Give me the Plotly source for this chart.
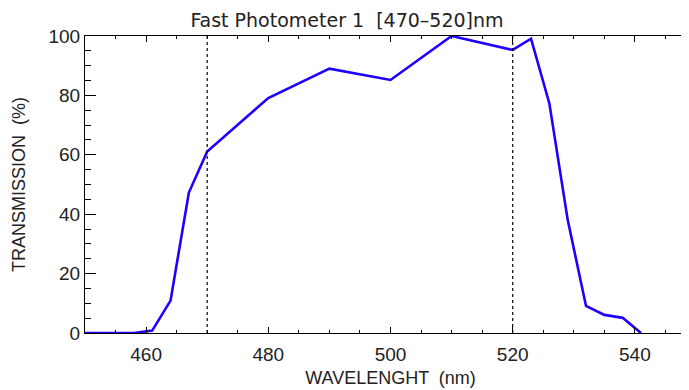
import plotly.graph_objects as go

wavelength = [450, 458, 461, 464, 467, 470, 480, 490, 500, 510, 520, 523, 526, 529, 532, 535, 538, 541]
transmission = [0, 0, 0.8, 10.9, 47.3, 61.1, 79.1, 89.0, 85.2, 100, 95.3, 99.1, 77.3, 38.1, 9.1, 6.1, 5.1, 0]
band_edges = [470, 520]
x_ticks = [460, 480, 500, 520, 540]
y_ticks = [0, 20, 40, 60, 80, 100]

title_text = "Fast Photometer 1  [470\u2013520]nm"
x_title = "WAVELENGHT  (nm)"
y_title = "TRANSMISSION  (%)"

FONT = "Liberation Sans"
TXT = "#222222"

fig = go.Figure()
fig.add_trace(go.Scatter(x=wavelength, y=transmission, mode="lines",
                         line=dict(color="rgb(30,0,255)", width=2.6),
                         showlegend=False, hoverinfo="skip", cliponaxis=False))

for b in band_edges:
    fig.add_shape(type="line", xref="x", yref="paper", x0=b, x1=b, y0=0, y1=1,
                  line=dict(color="black", width=1.2, dash="dot"))

fig.update_layout(
    width=689, height=390,
    margin=dict(l=77, r=1, t=28, b=65, autoexpand=False),
    paper_bgcolor="white", plot_bgcolor="white",
    font=dict(family=FONT, color=TXT, size=18),
    title=dict(text=title_text, x=0.492, xanchor="center", y=0.969, yanchor="middle",
               automargin=False,
               font=dict(family="DejaVu Sans", size=19, color=TXT)),
)
fig.update_xaxes(range=[450, 550], tickvals=x_ticks, ticktext=[str(v) for v in x_ticks],
                 automargin=False,
                 ticks="inside", ticklen=6, tickwidth=1, tickcolor="black",
                 ticklabelstandoff=4,
                 minor=dict(dtick=5, tick0=450, ticks="inside", ticklen=3, tickcolor="black", tickwidth=1),
                 showline=True, linecolor="black", linewidth=1, mirror="allticks",
                 showgrid=False, zeroline=False,
                 tickfont=dict(family=FONT, size=19, color=TXT),
                 title=dict(text=x_title, font=dict(family=FONT, size=18, color=TXT), standoff=7))
fig.update_yaxes(range=[0, 100], tickvals=y_ticks, ticktext=[str(v) for v in y_ticks],
                 automargin=False,
                 ticks="inside", ticklen=11, tickwidth=1, tickcolor="black",
                 minor=dict(dtick=5, tick0=0, ticks="inside", ticklen=6, tickcolor="black", tickwidth=1),
                 showline=True, linecolor="black", linewidth=1, mirror="allticks",
                 showgrid=False, zeroline=False,
                 tickfont=dict(family=FONT, size=19, color=TXT),
                 title=dict(text=y_title, font=dict(family=FONT, size=18, color=TXT), standoff=18))

fig.write_html("out.html")
